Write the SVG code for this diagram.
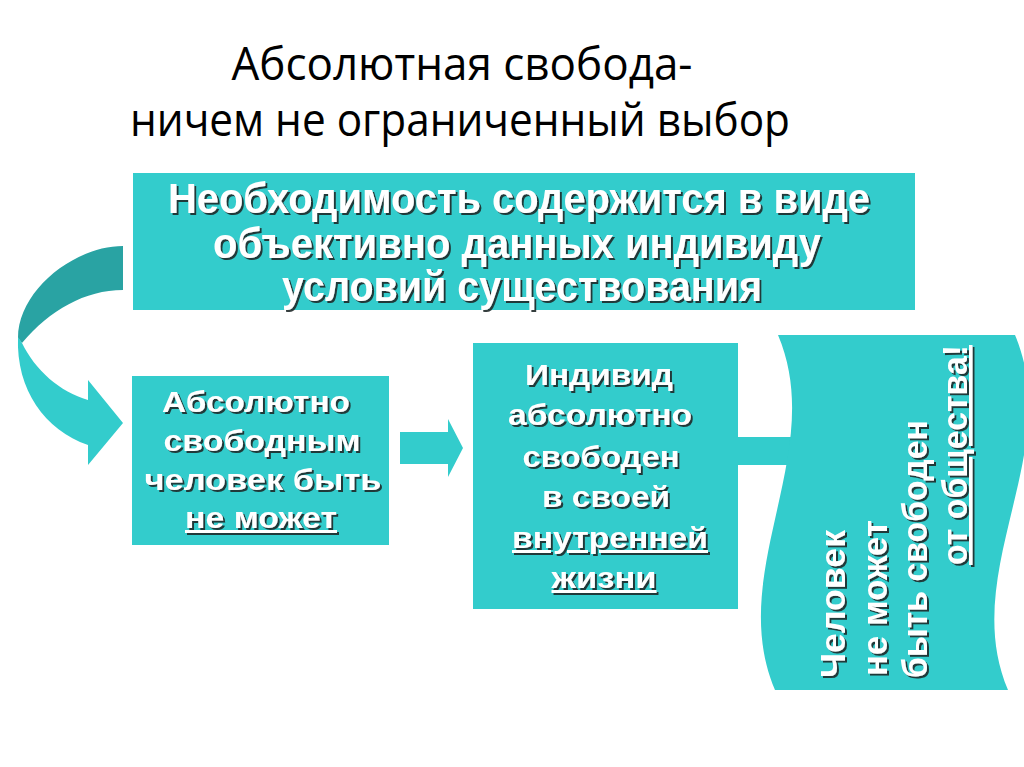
<svg xmlns="http://www.w3.org/2000/svg" width="1024" height="767" viewBox="0 0 1024 767">
<defs>
<filter id="sh" x="-10%" y="-10%" width="120%" height="130%">
<feDropShadow dx="2" dy="2" stdDeviation="0.6" flood-color="#1b2b2b" flood-opacity="0.9"/>
</filter>
<style>
.title{font-family:"Open Sans","Noto Sans",sans-serif;font-size:46px;fill:#000;}
.box{fill:#33CCCC;}
.t{font-family:"Liberation Sans",Arial,sans-serif;font-weight:bold;fill:#fff;}
.tn{font-size:42px;}
.tb{font-size:30px;}
.tw{font-size:35px;}
.u{text-decoration:underline;}
</style>
</defs>
<rect width="1024" height="767" fill="#fff"/>
<g id="title">
<text class="title" x="462" y="80" text-anchor="middle" textLength="461" lengthAdjust="spacingAndGlyphs">Абсолютная свобода-</text>
<text class="title" x="460" y="136" text-anchor="middle" textLength="660" lengthAdjust="spacingAndGlyphs">ничем не ограниченный выбор</text>
</g>
<g id="connectors">
<path d="M123,246 C75,246 18,290 18,338 L22,343 C50,310 85,290 123,290 Z" fill="#29A3A3"/>
<path d="M18,337 C16,390 45,430 88,445 L88,465 L123,423 L88,380 L88,400 C60,392 35,370 22,343 Z" fill="#33CCCC"/>
<path d="M400,432 L448,432 L448,419 L463,448 L448,477 L448,464 L400,464 Z" fill="#33CCCC"/>
<rect x="737" y="437" width="60" height="28" fill="#33CCCC"/>
</g>
<g id="node-top">
<rect class="box" x="133" y="173" width="782" height="137"/>
<g filter="url(#sh)">
<text class="t tn" x="519" y="213" text-anchor="middle" textLength="702" lengthAdjust="spacingAndGlyphs">Необходимость содержится в виде</text>
<text class="t tn" x="517" y="258" text-anchor="middle" textLength="608" lengthAdjust="spacingAndGlyphs">объективно данных индивиду</text>
<text class="t tn" x="522" y="301" text-anchor="middle" textLength="480" lengthAdjust="spacingAndGlyphs">условий существования</text>
</g>
</g>
<g id="node-left">
<rect class="box" x="132" y="376" width="257" height="169"/>
<g filter="url(#sh)">
<text class="t tb" x="256" y="412" text-anchor="middle" textLength="188" lengthAdjust="spacingAndGlyphs">Абсолютно</text>
<text class="t tb" x="262" y="451" text-anchor="middle" textLength="197" lengthAdjust="spacingAndGlyphs">свободным</text>
<text class="t tb" x="263" y="490" text-anchor="middle" textLength="237" lengthAdjust="spacingAndGlyphs">человек быть</text>
<text class="t tb u" x="261" y="528" text-anchor="middle" textLength="152" lengthAdjust="spacingAndGlyphs">не может</text>
</g>
</g>
<g id="node-middle">
<rect class="box" x="473" y="343" width="265" height="266"/>
<g filter="url(#sh)">
<text class="t tb" x="599" y="385" text-anchor="middle" textLength="148" lengthAdjust="spacingAndGlyphs">Индивид</text>
<text class="t tb" x="600" y="425" text-anchor="middle" textLength="184" lengthAdjust="spacingAndGlyphs">абсолютно</text>
<text class="t tb" x="601" y="467" text-anchor="middle" textLength="157" lengthAdjust="spacingAndGlyphs">свободен</text>
<text class="t tb" x="606" y="507" text-anchor="middle" textLength="128" lengthAdjust="spacingAndGlyphs">в своей</text>
<text class="t tb u" x="610" y="548" text-anchor="middle" textLength="196" lengthAdjust="spacingAndGlyphs">внутренней</text>
<text class="t tb u" x="604" y="588" text-anchor="middle" textLength="105" lengthAdjust="spacingAndGlyphs">жизни</text>
</g>
</g>
<g id="node-wave">
<path class="box" d="M778,335 L1015,335 C1065,453 958,572 1008,690 L775,690 C725,572 828,453 778,335 Z"/>
<g filter="url(#sh)">
<text class="t tw" transform="translate(845,678) rotate(-90)" textLength="148" lengthAdjust="spacingAndGlyphs">Человек</text>
<text class="t tw" transform="translate(887,676) rotate(-90)" textLength="156" lengthAdjust="spacingAndGlyphs">не может</text>
<text class="t tw" transform="translate(927,678) rotate(-90)" textLength="258" lengthAdjust="spacingAndGlyphs">быть свободен</text>
<text class="t tw u" transform="translate(967,565) rotate(-90)" textLength="220" lengthAdjust="spacingAndGlyphs">от общества!</text>
</g>
</g>
</svg>
